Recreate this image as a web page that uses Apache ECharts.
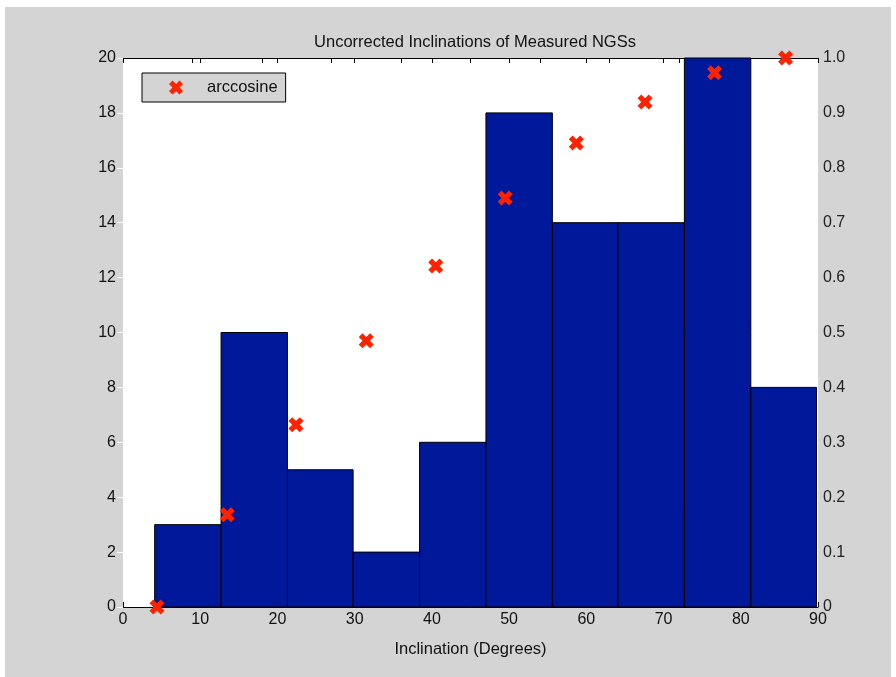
<!DOCTYPE html>
<html>
<head>
<meta charset="utf-8">
<script src="https://cdn.jsdelivr.net/npm/echarts@6/dist/echarts.min.js"></script>
<style>
html,body{margin:0;padding:0;background:#fff;width:896px;height:677px;overflow:hidden;}
#bg{position:absolute;left:5px;top:7px;width:886px;height:670px;background:#d4d4d4;}
#chart{position:absolute;left:0;top:0;width:896px;height:677px;}
</style>
</head>
<body>
<div id="bg"></div>
<div id="chart"></div>
<script>
// Histogram bins (degrees) and counts
const binEdges = [4.1, 12.7, 21.3, 29.8, 38.4, 47.0, 55.6, 64.1, 72.7, 81.3, 89.8];
const binCounts = [3, 10, 5, 2, 6, 18, 14, 14, 20, 8];
// arccosine points
const acosX = [4.4, 13.5, 22.4, 31.5, 40.5, 49.5, 58.7, 67.6, 76.6, 85.8];
const acosY = [0.0, 0.168, 0.332, 0.485, 0.621, 0.745, 0.845, 0.920, 0.973, 1.0];
// Axis tick labels
const xTicks = [0, 10, 20, 30, 40, 50, 60, 70, 80, 90];
const leftTicks = [0, 2, 4, 6, 8, 10, 12, 14, 16, 18, 20];
const rightTicks = ['0','0.1','0.2','0.3','0.4','0.5','0.6','0.7','0.8','0.9','1.0'];

const FONT = 'Liberation Sans';
const xPath = 'path://M2.5,0 L5,2.5 L7.5,0 L10,2.5 L7.5,5 L10,7.5 L7.5,10 L5,7.5 L2.5,10 L0,7.5 L2.5,5 L0,2.5 Z';

const barData = binCounts.map((c, i) => [binEdges[i], binEdges[i + 1], c]);
const scatterData = acosX.map((x, i) => [x, acosY[i]]);

const gridPos = {left: 123, right: 78, top: 58, bottom: 70, containLabel: false};
const chart = echarts.init(document.getElementById('chart'), null, {renderer: 'canvas'});
chart.setOption({
  backgroundColor: 'transparent',
  animation: false,
  title: {
    text: 'Uncorrected Inclinations of Measured NGSs',
    left: 470, top: 29, textAlign: 'center',
    textStyle: {fontFamily: FONT, fontSize: 16.5, fontWeight: 'normal', color: '#111'}
  },
  legend: {
    left: 142, top: 73,
    orient: 'horizontal',
    backgroundColor: '#d4d4d4',
    borderColor: '#000', borderWidth: 1, borderRadius: 0,
    padding: [6, 8, 6, 27],
    itemWidth: 14, itemHeight: 14,
    data: [{name: 'arccosine', icon: xPath, itemStyle: {color: '#ff2200', opacity: 1}}],
    textStyle: {fontFamily: FONT, fontSize: 16.5, color: '#111', padding: [0, 0, 0, 19]}
  },
  grid: [Object.assign({show: true, backgroundColor: '#fff', borderWidth: 0}, gridPos), Object.assign({}, gridPos)],
  xAxis: [
    {gridIndex: 0, type: 'value', position: 'bottom', min: 0, max: 90, interval: 10,
     axisLine: {show: true, onZero: false, lineStyle: {color: '#000', width: 1}},
     axisTick: {show: true, inside: true, length: 5, lineStyle: {color: '#000'}},
     axisLabel: {show: true, margin: 5, fontFamily: FONT, fontSize: 16, color: '#111',
       formatter: v => xTicks.indexOf(v) >= 0 ? String(v) : ''},
     splitLine: {show: false},
     name: 'Inclination (Degrees)', nameLocation: 'middle', nameGap: 34,
     nameTextStyle: {fontFamily: FONT, fontSize: 16.5, color: '#111'}},
    {gridIndex: 0, type: 'value', position: 'top', min: 0, max: 90, interval: 10,
     axisLine: {show: true, onZero: false, lineStyle: {color: '#000', width: 1}},
     axisTick: {show: true, inside: true, length: 5, lineStyle: {color: '#000'}},
     axisLabel: {show: false}, splitLine: {show: false}},
    {gridIndex: 1, type: 'value', position: 'bottom', min: 0, max: 90, interval: 9,
     axisLine: {show: false, onZero: false},
     axisTick: {show: true, inside: true, length: 5, lineStyle: {color: '#000'}},
     axisLabel: {show: false}, splitLine: {show: false}},
    {gridIndex: 1, type: 'value', position: 'top', min: 0, max: 90, interval: 9,
     axisLine: {show: false, onZero: false},
     axisTick: {show: true, inside: true, length: 5, lineStyle: {color: '#000'}},
     axisLabel: {show: false}, splitLine: {show: false}}
  ],
  yAxis: [
    {gridIndex: 0, type: 'value', position: 'left', min: 0, max: 20, interval: 2,
     axisLine: {show: false}, axisTick: {show: false},
     axisLabel: {show: true, margin: 7, fontFamily: FONT, fontSize: 16, color: '#111',
       formatter: v => leftTicks.indexOf(v) >= 0 ? String(v) : ''},
     splitLine: {show: false}},
    {gridIndex: 0, type: 'value', position: 'right', min: 0, max: 1, interval: 0.1,
     axisLine: {show: false},
     axisTick: {show: true, inside: true, length: 6, lineStyle: {color: '#fff'}},
     axisLabel: {show: true, margin: 5, fontFamily: FONT, fontSize: 16, color: '#222',
       formatter: v => rightTicks[Math.round(v * 10)]},
     splitLine: {show: false}},
    {gridIndex: 1, type: 'value', min: 0, max: 20, show: false,
     axisLine: {show: false}, axisTick: {show: false}, axisLabel: {show: false}, splitLine: {show: false}},
    {gridIndex: 1, type: 'value', min: 0, max: 1, show: false, position: 'right',
     axisLine: {show: false}, axisTick: {show: false}, axisLabel: {show: false}, splitLine: {show: false}}
  ],
  series: [
    {
      type: 'custom', name: 'counts', xAxisIndex: 0, yAxisIndex: 0,
      data: barData,
      encode: {x: [0, 1], y: 2},
      renderItem: function (params, api) {
        const p0 = api.coord([api.value(0), 0]);
        const p1 = api.coord([api.value(1), api.value(2)]);
        return {
          type: 'rect',
          shape: {x: p0[0], y: p1[1], width: p1[0] - p0[0], height: p0[1] - p1[1]},
          style: {fill: '#00189a', stroke: '#000', lineWidth: 1}
        };
      },
      z: 2
    },
    {
      type: 'scatter', name: 'arccosine', xAxisIndex: 0, yAxisIndex: 1,
      data: scatterData,
      symbol: xPath, symbolSize: 15,
      itemStyle: {color: '#ff2200', opacity: 1},
      clip: false, z: 5
    }
  ]
});
</script>
</body>
</html>
